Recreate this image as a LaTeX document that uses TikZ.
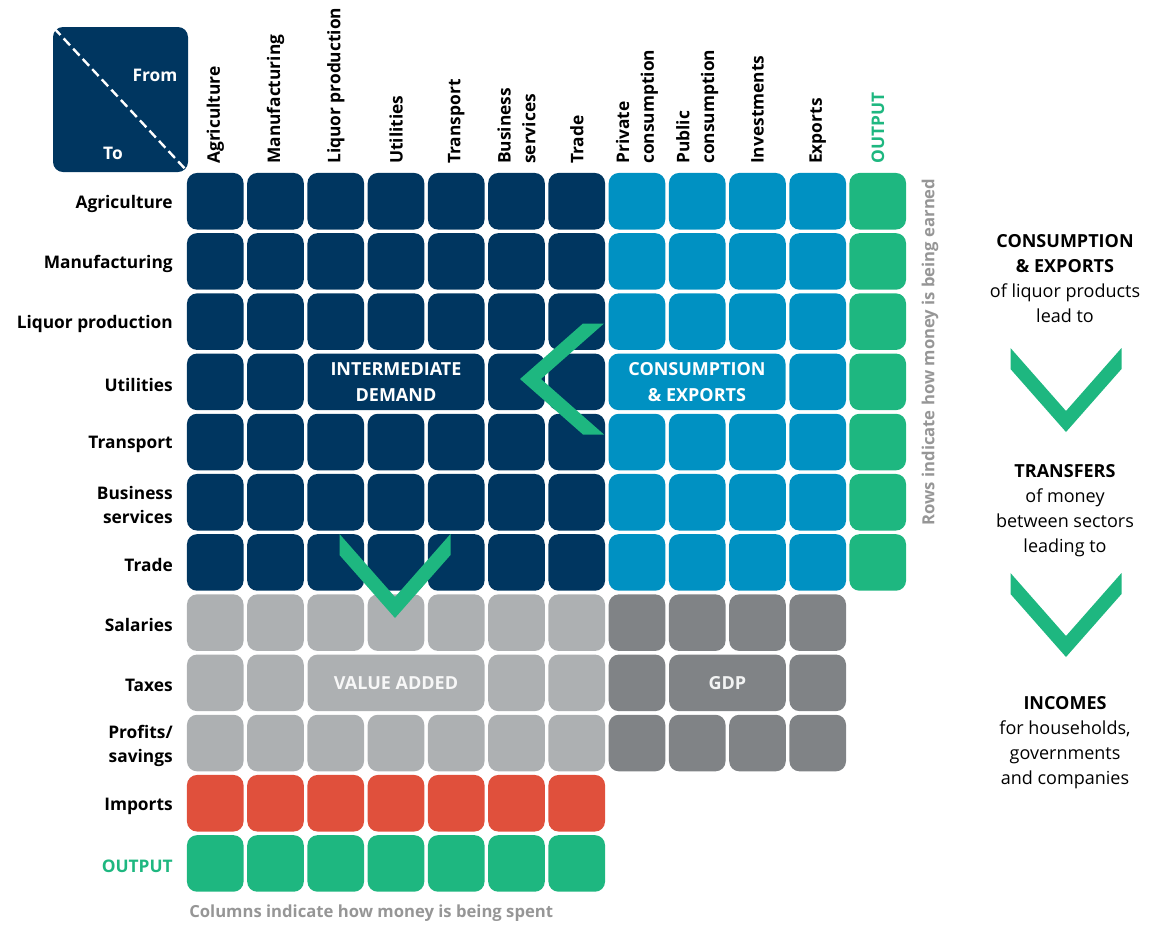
\documentclass[tikz,border=0pt]{standalone}
\usepackage{fontspec}
\setmainfont{Open Sans}
\usepackage{xcolor}
\usetikzlibrary{positioning}

\definecolor{navy}{RGB}{0,54,96}
\definecolor{sky}{RGB}{0,145,194}
\definecolor{mint}{RGB}{30,183,128}
\definecolor{lgrey}{RGB}{173,176,178}
\definecolor{dgrey}{RGB}{128,131,134}
\definecolor{brick}{RGB}{224,80,60}
\definecolor{note}{RGB}{150,150,150}

\newcommand\lblfont{\fontsize{13}{18.5}\selectfont\bfseries}
\newcommand\boxfont{\fontsize{13.5}{19.5}\selectfont\bfseries}
\newcommand\notefont{\fontsize{12.5}{18}\selectfont\bfseries}
\newcommand\txtfont{\fontsize{13.5}{18.75}\selectfont}

\tikzset{
  chevron/.pic = {\fill[mint] (-55.5,-84) -- (-55.5,-63) -- (0,0) -- (55.5,-63)
                   -- (55.5,-84) -- (0,-21) -- cycle;}
}

\begin{document}
\begin{tikzpicture}[x=0.75pt, y=-0.75pt,
cell/.style  = {rounded corners=7.5pt, minimum size=42.4pt, inner sep=0pt},
span3/.style = {cell, minimum width=132.75pt, text=white, font=\boxfont,
                align=center},
span2/.style = {cell, minimum width=87.56pt, text=white, font=\boxfont,
                align=center},
rowlab/.style = {anchor=east, font=\lblfont, align=right, inner sep=0pt},
collab/.style = {anchor=west, rotate=90, font=\lblfont, align=left,
                 inner sep=0pt},
side/.style   = {font=\txtfont, align=center, inner sep=0pt},
                    ]
\useasboundingbox (0,0) rectangle (1158,926);

% corner box
\node (corner) [fill=navy, rounded corners=7.5pt, minimum width=101.25pt,
                minimum height=108.75pt] at (120.5,99.5) {};
\draw[white, line width=1.8pt, dash pattern=on 7pt off 3.5pt,
      shorten <=1.5pt, shorten >=1.5pt] (corner.north west) -- (corner.south east);
\node (fromlab) [text=white, font=\lblfont] at (155,75) {From};
\node (tolab)   [text=white, font=\lblfont] at (113,153) {To};

% column heads
\foreach \c/\t in {1/Agriculture, 2/Manufacturing, 3/Liquor production,
                   4/Utilities, 5/Transport, 6/Business\\services, 7/Trade,
                   8/Private\\consumption, 9/Public\\consumption,
                   10/Investments, 11/Exports}
  \node (h\c) [collab] at ({215.25+(\c-1)*60.25},164) {\t};
\node (h12) [collab, text=mint] at (878,164) {OUTPUT};

% row heads
\foreach \r/\t in {1/Agriculture, 2/Manufacturing, 3/Liquor production,
                   4/Utilities, 5/Transport, 6/Business\\services, 7/Trade,
                   8/Salaries, 9/Taxes, 10/{Profits/\\savings}, 11/Imports}
  \node (r\r) [rowlab] at (173,{204+(\r-1)*60.2}) {\t};
\node (r12) [rowlab, text=mint] at (173,866) {OUTPUT};

% intermediate demand and final demand
\foreach \r in {1,2,3,5,6,7} {
  \foreach \c in {1,...,7}
    \node (c\r-\c) [cell, fill=navy] at ({215.25+(\c-1)*60.25},{201.25+(\r-1)*60.2}) {};
  \foreach \c in {8,...,11}
    \node (c\r-\c) [cell, fill=sky] at ({215.25+(\c-1)*60.25},{201.25+(\r-1)*60.2}) {};
}
\foreach \c in {1,2,6,7}
  \node (c4-\c) [cell, fill=navy] at ({215.25+(\c-1)*60.25},381.85) {};
\node (c4-11) [cell, fill=sky] at (817.75,381.85) {};
\foreach \r in {1,...,7}
  \node (c\r-12) [cell, fill=mint] at (877.75,{201.25+(\r-1)*60.2}) {};

% value added and GDP
\foreach \r in {8,10} {
  \foreach \c in {1,...,7}
    \node (c\r-\c) [cell, fill=lgrey] at ({215.25+(\c-1)*60.25},{201.25+(\r-1)*60.2}) {};
  \foreach \c in {8,...,11}
    \node (c\r-\c) [cell, fill=dgrey] at ({215.25+(\c-1)*60.25},{201.25+(\r-1)*60.2}) {};
}
\foreach \c in {1,2,6,7}
  \node (c9-\c) [cell, fill=lgrey] at ({215.25+(\c-1)*60.25},682.85) {};
\foreach \c in {8,11}
  \node (c9-\c) [cell, fill=dgrey] at ({215.25+(\c-1)*60.25},682.85) {};

% imports and output
\foreach \c in {1,...,7} {
  \node (c11-\c) [cell, fill=brick] at ({215.25+(\c-1)*60.25},803.25) {};
  \node (c12-\c) [cell, fill=mint]  at ({215.25+(\c-1)*60.25},863.45) {};
}

% merged blocks
\node (interm)  [span3, fill=navy] at (396,381.85) {INTERMEDIATE\\DEMAND};
\node (consexp) [span3, fill=sky]  at (697,381.85) {CONSUMPTION\\\& EXPORTS};
\node (valadd)  [span3, fill=lgrey, text=white!90!lgrey] at (396,682.85) {VALUE ADDED};
\node (gdp)     [span2, fill=dgrey, text=white!90!dgrey] at (727.4,682.85) {GDP};

% arrows
\pic[rotate=-90] at (520,379) {chevron};
\pic at (395,618) {chevron};
\pic at (1066,432) {chevron};
\pic at (1066,657) {chevron};

% notes
\node (rownote) [rotate=90, text=note, font=\notefont] at (930,352)
  {Rows indicate how money is being earned};
\node (colnote) [anchor=west, text=note, font=\notefont, inner sep=0pt] at (189,913)
  {Columns indicate how money is being spent};

\node (txt1) [side] at (1065,279)
  {\textbf{CONSUMPTION}\\\textbf{\& EXPORTS}\\of liquor products\\lead to};
\node (txt2) [side] at (1065,511)
  {\textbf{TRANSFERS}\\of money\\between sectors\\leading to};
\node (txt3) [side] at (1065,742.5)
  {\textbf{INCOMES}\\for households,\\governments\\and companies};
\end{tikzpicture}
\end{document}
